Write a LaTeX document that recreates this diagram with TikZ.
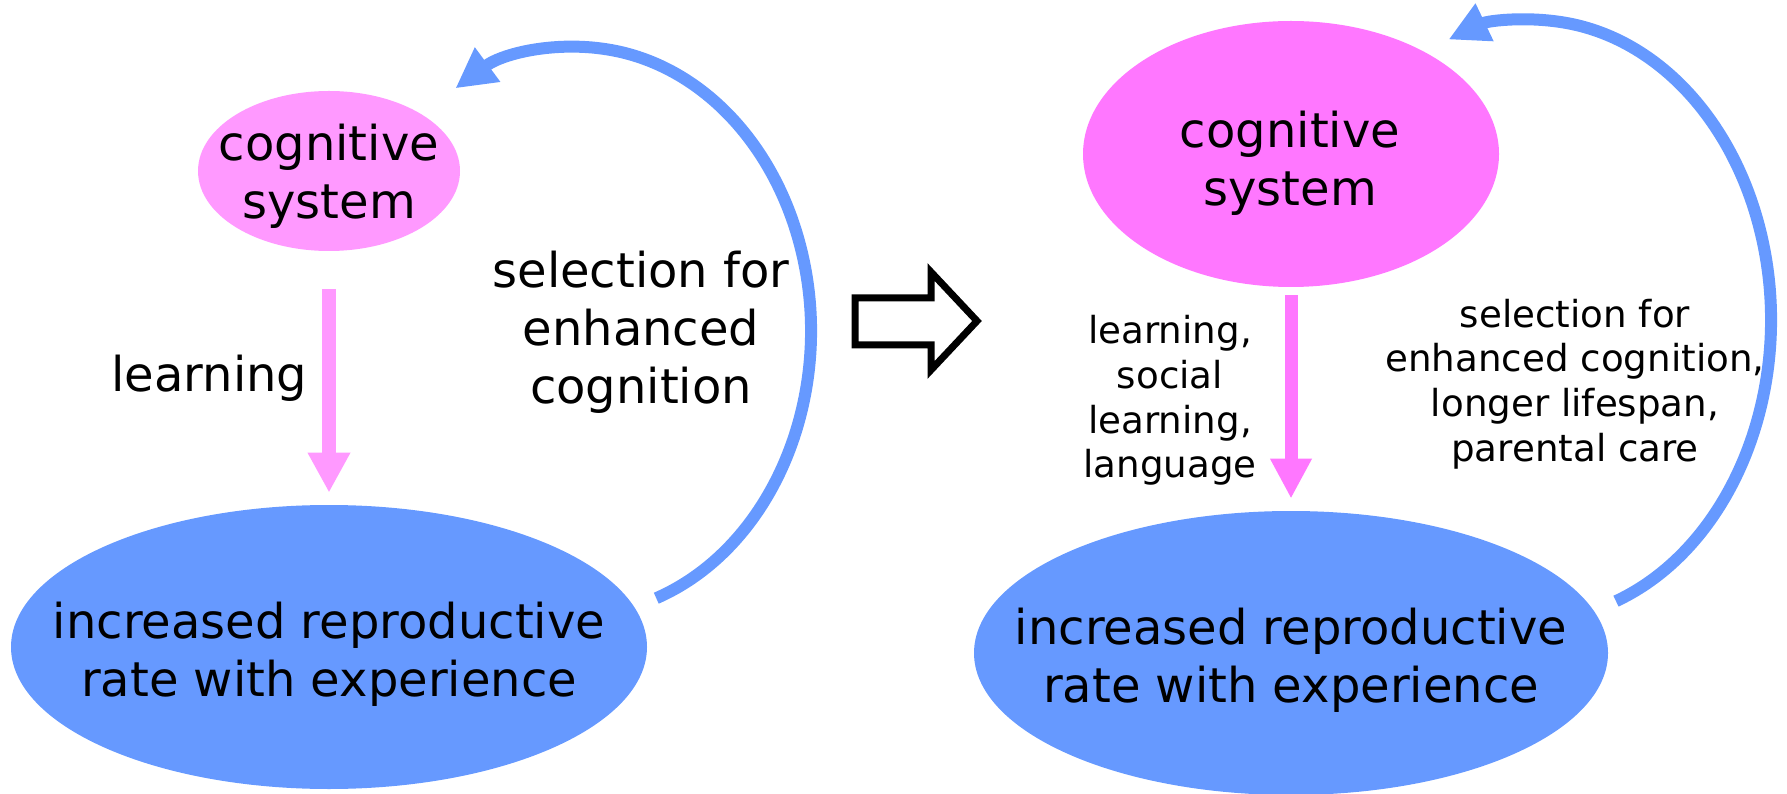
\documentclass[tikz,border=0pt]{standalone}
\usepackage{fontspec}
\setmainfont{DejaVu Sans}
\usetikzlibrary{shapes.geometric,arrows.meta}
\definecolor{pinkL}{HTML}{FF99FF}
\definecolor{pinkR}{HTML}{FF77FF}
\definecolor{blueE}{HTML}{6699FF}
\begin{document}
\begin{tikzpicture}[x=0.5pt,y=0.5pt,
  ell/.style={ellipse, draw=none, inner sep=0pt},
  bigtxt/.style={font=\fontsize{24}{29}\selectfont, align=center, inner sep=0pt},
  smalltxt/.style={font=\fontsize{18.6}{22.3}\selectfont, align=center, inner sep=0pt},
  downarrowL/.style={draw=pinkL, line width=7pt, -{Triangle[length=20pt,width=20pt]}},
  downarrowR/.style={draw=pinkR, line width=6.5pt, -{Triangle[length=20pt,width=19.5pt]}},
  loopL/.style={draw=blueE, line width=6pt, -{Triangle[length=20pt,width=20pt]}},
  loopR/.style={draw=blueE, line width=6pt, -{Triangle[length=20pt,width=19.5pt]}},
  hollow/.style={draw=black, line width=3.5pt, line join=miter, fill=white},
]
\useasboundingbox (0,0) rectangle (1787,793);

% left panel
\node[ell, fill=pinkL, minimum width=131pt, minimum height=80pt] (cs1) at (329,622) {};
\node[ell, fill=blueE, minimum width=318pt, minimum height=142pt] (ri1) at (329,146) {};
\node[bigtxt] (t1) at (329,617) {cognitive\\system};
\node[bigtxt] (r1t) at (329,139) {increased reproductive\\rate with experience};
\node[bigtxt] (l1) at (209.5,415) {learning};
\node[bigtxt] (s1) at (641,461) {selection for\\enhanced\\cognition};
\draw[downarrowL] ([yshift=-19pt]cs1.south) -- ([yshift=6pt]ri1.north);
\coordinate (c1) at (577,462);
\draw[loopL] ([shift={(-70.2:234 and 284)}]c1) arc[start angle=-70.2, end angle=121.3, x radius=234, y radius=284];

% transition arrow
\draw[hollow] (855,495) -- (931,495) -- (931,521) -- (977,472) -- (931,423) -- (931,448) -- (855,448) -- cycle;

% right panel
\node[ell, fill=pinkR, minimum width=208pt, minimum height=133pt] (cs2) at (1291,639) {};
\node[ell, fill=blueE, minimum width=317pt, minimum height=142pt] (ri2) at (1291,140) {};
\node[bigtxt] (t2) at (1290,629.5) {cognitive\\system};
\node[bigtxt] (r2t) at (1291,133) {increased reproductive\\rate with experience};
\node[smalltxt] (l2) at (1170,392.5) {learning,\\social\\learning,\\language};
\node[smalltxt] (s2) at (1575,409) {selection for\\enhanced cognition,\\longer lifespan,\\parental care};
\draw[downarrowR] ([yshift=-4pt]cs2.south) -- ([yshift=6pt]ri2.north);
\coordinate (c2) at (1533,473);
\draw[loopR] ([shift={(-69.6:238 and 300)}]c2) arc[start angle=-69.6, end angle=110.8, x radius=238, y radius=300];
\end{tikzpicture}
\end{document}
